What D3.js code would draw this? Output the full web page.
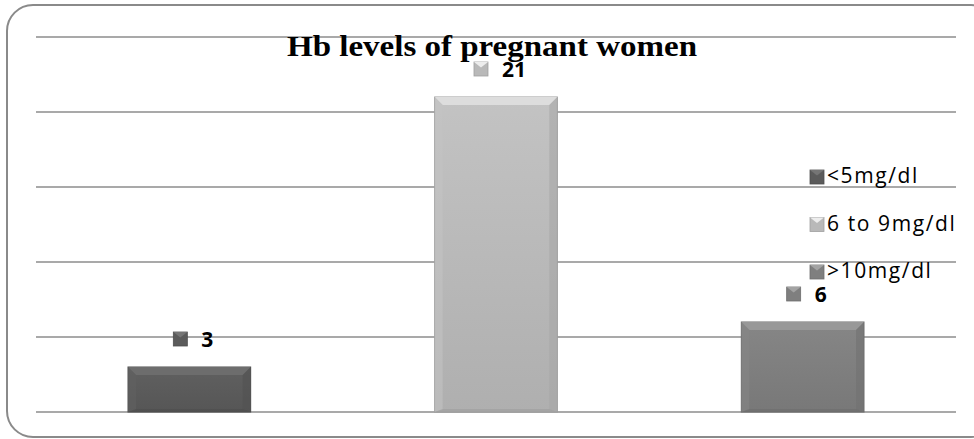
<!DOCTYPE html>
<html>
<head>
<meta charset="utf-8">
<script src="https://cdn.jsdelivr.net/npm/d3@7"></script>
<style>
  body { margin: 0; background: #fff; }
  svg { display: block; }
</style>
</head>
<body>
<svg id="chart"></svg>
<script>
// Data
const categories = ["<5mg/dl", "6 to 9mg/dl", ">10mg/dl"];
const values = [3, 21, 6];
const yTicks = [0, 5, 10, 15, 20, 25];
const barColors = ["#5b5b5b", "#b9b9b9", "#7f7f7f"];

const W = 974, H = 439;
const margin = { top: 37, right: 18, bottom: 27, left: 36 };
const width = W - margin.left - margin.right;
const height = H - margin.top - margin.bottom;

const svg = d3.select("#chart").attr("width", W).attr("height", H);

// outer frame
svg.append("rect")
  .attr("x", 7).attr("y", 5)
  .attr("width", 990).attr("height", 432)
  .attr("rx", 26).attr("ry", 26)
  .attr("fill", "none")
  .attr("stroke", "#8a8a8a")
  .attr("stroke-width", 2);

const defs = svg.append("defs");
barColors.forEach((c, i) => {
  const g = defs.append("linearGradient")
    .attr("id", "grad" + i)
    .attr("x1", 0).attr("y1", 0).attr("x2", 0).attr("y2", 1);
  g.append("stop").attr("offset", "0%").attr("stop-color", d3.color(c).brighter(0.15));
  g.append("stop").attr("offset", "100%").attr("stop-color", d3.color(c).darker(0.15));
});

const chartGroup = svg.append("g")
  .attr("transform", `translate(${margin.left},${margin.top})`);

const xScale = d3.scaleBand().domain(categories).range([0, width]).padding(0);
const yScale = d3.scaleLinear().domain([0, 25]).range([height, 0]);

// gridlines
chartGroup.append("g")
  .selectAll("line")
  .data(yTicks)
  .join("line")
  .attr("x1", 0).attr("x2", width)
  .attr("y1", d => yScale(d)).attr("y2", d => yScale(d))
  .attr("stroke", "#8c8c8c")
  .attr("stroke-width", 1.5);

const barW = xScale.bandwidth() * 0.4;
const bev = 8;

function drawMarker(g, x, y, s, color) {
  const c = d3.color(color);
  g.append("rect").attr("x", x).attr("y", y).attr("width", s).attr("height", s)
    .attr("fill", c).attr("stroke", c.darker(0.4)).attr("stroke-width", 0.8);
  g.append("path")
    .attr("d", `M${x},${y}L${x + s},${y}L${x + s / 2},${y + s / 2.5}Z`)
    .attr("fill", c.brighter(0.7));
}

const bars = chartGroup.selectAll(".bar")
  .data(values)
  .join("g")
  .attr("class", "bar");

bars.each(function (d, i) {
  const g = d3.select(this);
  const x0 = xScale(categories[i]) + (xScale.bandwidth() - barW) / 2;
  const x1 = x0 + barW;
  const y0 = yScale(d);
  const y1 = yScale(0);
  const c = d3.color(barColors[i]);
  g.append("rect")
    .attr("x", x0).attr("y", y0)
    .attr("width", barW).attr("height", y1 - y0)
    .attr("fill", `url(#grad${i})`)
    .attr("stroke", c.darker(0.5))
    .attr("stroke-width", 1);
  // top bevel
  g.append("path")
    .attr("d", `M${x0},${y0}L${x1},${y0}L${x1 - bev},${y0 + bev}L${x0 + bev},${y0 + bev}Z`)
    .attr("fill", c.brighter(0.5));
  // side bevels
  g.append("path")
    .attr("d", `M${x0},${y0}L${x0 + bev},${y0 + bev}L${x0 + bev},${y1 - 2}L${x0},${y1}Z`)
    .attr("fill", c.brighter(0.15)).attr("opacity", 0.6);
  g.append("path")
    .attr("d", `M${x1},${y0}L${x1 - bev},${y0 + bev}L${x1 - bev},${y1 - 2}L${x1},${y1}Z`)
    .attr("fill", c.darker(0.3)).attr("opacity", 0.6);
  g.append("path")
    .attr("d", `M${x0},${y1}L${x0 + bev},${y1 - 3}L${x1 - bev},${y1 - 3}L${x1},${y1}Z`)
    .attr("fill", c.darker(0.4)).attr("opacity", 0.7);

  // data label: marker + value, centred a little right of the bar centre
  const cx = xScale(categories[i]) + xScale.bandwidth() / 2;
  const ly = y0 - 28;
  const t = g.append("text")
    .attr("y", ly + 8)
    .attr("font-family", "Open Sans, Liberation Sans, sans-serif")
    .attr("font-weight", "bold")
    .attr("font-size", 21)
    .attr("fill", "#000")
    .text(d);
  const tw = t.node().getComputedTextLength();
  const total = 14 + 14 + tw;
  const start = cx + 4 - total / 2;
  t.attr("x", start + 28);
  drawMarker(g, start, ly - 7, 14, barColors[i]);
});

// legend
const legend = svg.append("g").attr("transform", "translate(810,176)");
categories.forEach((c, i) => {
  const ly = i * 47.5;
  drawMarker(legend, 0, ly - 6, 14, barColors[i]);
  legend.append("text")
    .attr("x", 17).attr("y", ly + 7)
    .attr("font-family", "Open Sans, Liberation Sans, sans-serif")
    .attr("font-size", 21)
    .attr("letter-spacing", 1.6)
    .attr("fill", "#000")
    .text(c);
});

// title
svg.append("text")
  .attr("x", 492).attr("y", 56)
  .attr("text-anchor", "middle")
  .attr("font-family", "Liberation Serif, Times New Roman, serif")
  .attr("font-weight", "bold")
  .attr("font-size", 29)
  .attr("textLength", 410)
  .attr("lengthAdjust", "spacingAndGlyphs")
  .attr("fill", "#000")
  .text("Hb levels of pregnant women");
</script>
</body>
</html>
